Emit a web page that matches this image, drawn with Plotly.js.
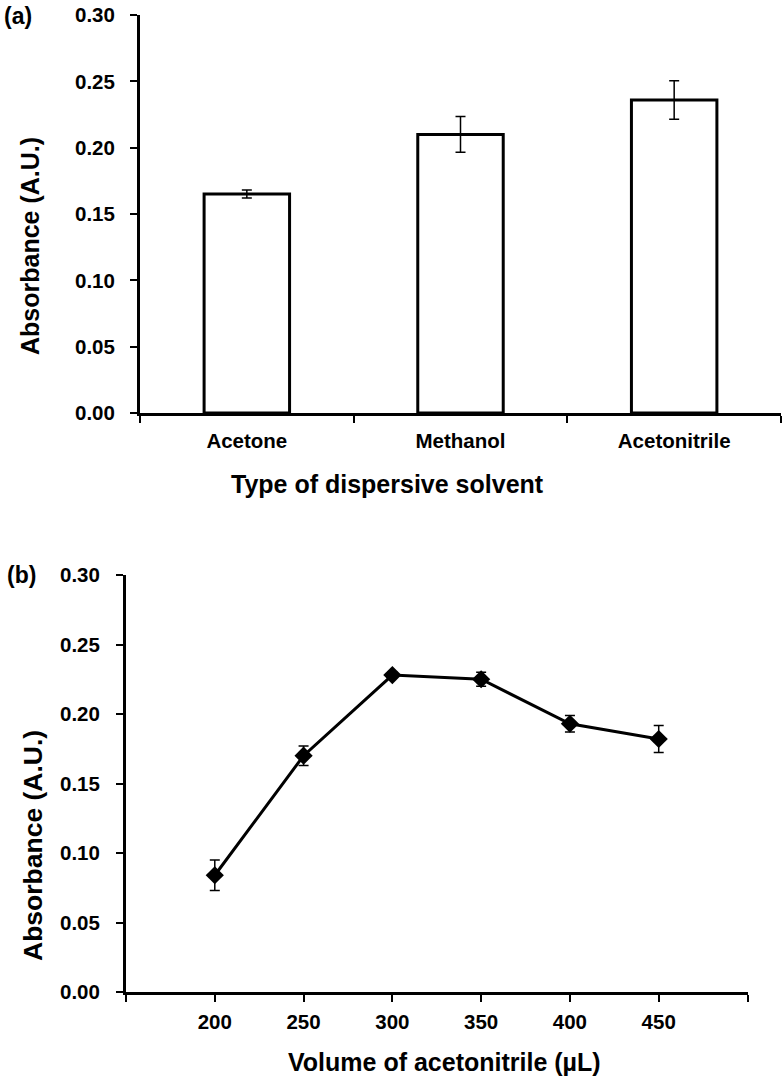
<!DOCTYPE html>
<html>
<head>
<meta charset="utf-8">
<script src="https://cdn.plot.ly/plotly-3.0.1.min.js"></script>
<style>html,body{margin:0;padding:0;background:#fff;}#chart{width:783px;height:1079px;}</style>
</head>
<body>
<div id="chart"></div>
<script>
// Panel (a): type of dispersive solvent
const solvents = ['Acetone', 'Methanol', 'Acetonitrile'];
const solventAbs = [0.165, 0.210, 0.236];
const solventErr = [0.003, 0.0135, 0.0145];

// Panel (b): volume of acetonitrile
const volumes = [200, 250, 300, 350, 400, 450];
const volumeAbs = [0.084, 0.170, 0.228, 0.225, 0.193, 0.182];
const volumeErr = [0.011, 0.007, 0.002, 0.005, 0.006, 0.0097];

const yTicks = [0, 0.05, 0.10, 0.15, 0.20, 0.25, 0.30];
const xTickVals = [150, 200, 250, 300, 350, 400, 450, 500];
const xTickText = ['', '200', '250', '300', '350', '400', '450', ''];

const W = 783, H = 1079;
const px = v => v / W;
const py = v => 1 - v / H;

const FAM = 'Liberation Sans, Arial, sans-serif';
const tickFont = {family: FAM, size: 20.5, color: '#000', weight: 'bold'};
const panelFont = {family: FAM, size: 23, color: '#000', weight: 'bold'};
const yTitleFontA = {family: FAM, size: 25, color: '#000', weight: 'bold'};
const yTitleFontB = {family: FAM, size: 26.5, color: '#000', weight: 'bold'};
const xTitleFont = {family: FAM, size: 25, color: '#000', weight: 'bold'};

const axisCommon = {
  showline: true, linecolor: '#000', linewidth: 3,
  ticks: 'outside', ticklen: 7, tickwidth: 2, tickcolor: '#000',
  showgrid: false, zeroline: false, tickfont: tickFont, fixedrange: true
};

const traces = [
  {
    type: 'bar', x: solvents, y: solventAbs, xaxis: 'x', yaxis: 'y',
    marker: {color: '#fff', line: {color: '#000', width: 3}},
    error_y: {type: 'data', array: solventErr, visible: true, color: '#000', thickness: 1.5, width: 5},
    showlegend: false, hoverinfo: 'skip'
  },
  {
    type: 'scatter', mode: 'lines+markers', x: volumes, y: volumeAbs, xaxis: 'x2', yaxis: 'y2',
    line: {color: '#000', width: 3},
    marker: {symbol: 'diamond', size: 14, color: '#000'},
    error_y: {type: 'data', array: volumeErr, visible: true, color: '#000', thickness: 1.5, width: 5},
    showlegend: false, hoverinfo: 'skip'
  }
];

const layout = {
  width: W, height: H,
  margin: {l: 0, r: 0, t: 0, b: 0},
  paper_bgcolor: '#fff', plot_bgcolor: '#fff',
  bargap: 0.6,
  xaxis: Object.assign({}, axisCommon, {
    domain: [px(140), px(781)], anchor: 'y', type: 'category',
    range: [-0.5, 2.5], tickson: 'boundaries', ticklabelstandoff: 7
  }),
  yaxis: Object.assign({}, axisCommon, {
    domain: [py(413), py(15)], anchor: 'x', range: [0, 0.3],
    tickvals: yTicks, tickformat: '.2f', ticklabelstandoff: 11
  }),
  xaxis2: Object.assign({}, axisCommon, {
    domain: [px(126), px(747.5)], anchor: 'y2', range: [150, 500],
    tickvals: xTickVals, ticktext: xTickText, ticklabelstandoff: 2
  }),
  yaxis2: Object.assign({}, axisCommon, {
    domain: [py(992), py(575)], anchor: 'x2', range: [0, 0.3],
    tickvals: yTicks, tickformat: '.2f', ticklabelstandoff: 12
  }),
  annotations: [
    {text: '(a)', xref: 'paper', yref: 'paper', x: px(2), y: py(16), xanchor: 'left', yanchor: 'middle', showarrow: false, font: panelFont},
    {text: '(b)', xref: 'paper', yref: 'paper', x: px(5), y: py(575), xanchor: 'left', yanchor: 'middle', showarrow: false, font: panelFont},
    {text: 'Absorbance (A.U.)', xref: 'paper', yref: 'paper', x: px(30), y: py(246), xanchor: 'center', yanchor: 'middle', textangle: -90, showarrow: false, font: yTitleFontA},
    {text: 'Absorbance (A.U.)', xref: 'paper', yref: 'paper', x: px(33), y: py(846), xanchor: 'center', yanchor: 'middle', textangle: -90, showarrow: false, font: yTitleFontB},
    {text: 'Type of dispersive solvent', xref: 'paper', yref: 'paper', x: px(387), y: py(484), xanchor: 'center', yanchor: 'middle', showarrow: false, font: xTitleFont},
    {text: 'Volume of acetonitrile (µL)', xref: 'paper', yref: 'paper', x: px(445), y: py(1062), xanchor: 'center', yanchor: 'middle', showarrow: false, font: xTitleFont}
  ]
};

Plotly.newPlot('chart', traces, layout, {staticPlot: true, displayModeBar: false});
</script>
</body>
</html>
